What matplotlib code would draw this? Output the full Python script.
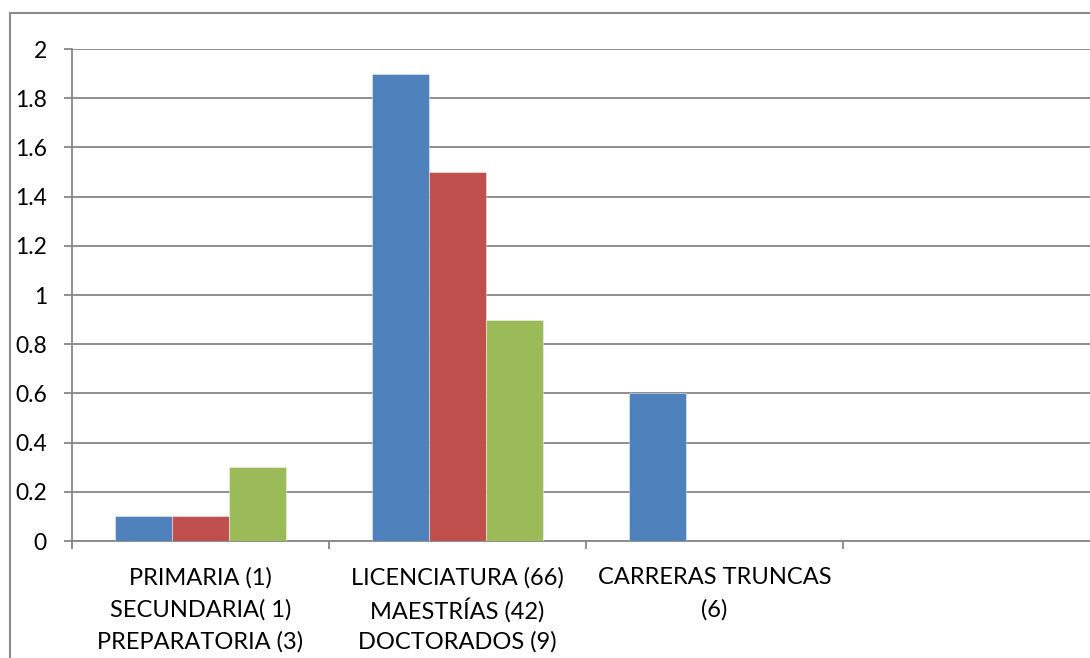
import matplotlib
matplotlib.use('Agg')
import matplotlib.pyplot as plt
import matplotlib.transforms as mtransforms
from matplotlib.patches import Rectangle
import numpy as np

plt.rcParams['font.family'] = ['Lato', 'DejaVu Sans']

# niveles de estudio (la cuarta casilla queda vacia)
categorias = ['PRIMARIA (1)\nSECUNDARIA( 1)\nPREPARATORIA (3)',
              'LICENCIATURA (66)\nMAESTRÍAS (42)\nDOCTORADOS (9)',
              'CARRERAS TRUNCAS\n(6)',
              '']
serie1 = [0.1, 1.9, 0.6, 0]
serie2 = [0.1, 1.5, 0, 0]
serie3 = [0.3, 0.9, 0, 0]
colores = ['#4F81BD', '#C0504D', '#9BBB59']
gris = '#868686'

fig = plt.figure(figsize=(10.9, 6.58), dpi=100)
ax = fig.add_axes([72/1090, 117/658, 1028/1090, 492/658])

x = np.arange(len(categorias)) + 0.5
ancho = 1 / 4.5
for i, (vals, c) in enumerate(zip([serie1, serie2, serie3], colores)):
    ax.bar(x + (i - 1) * ancho, vals, ancho, color=c,
           edgecolor=(1, 1, 1, 0.5), linewidth=0.6, zorder=3)

ax.set_xlim(0, 4)
ax.set_ylim(0, 2)
ax.set_yticks(np.arange(0, 2.01, 0.2))
ax.set_yticklabels(['0', '0.2', '0.4', '0.6', '0.8', '1', '1.2', '1.4', '1.6', '1.8', '2'])
ax.yaxis.grid(True, color=gris, linewidth=1.3, zorder=0)

ax.set_xticks([0, 1, 2, 3, 4])
ax.set_xticklabels([])
ax.tick_params(axis='x', which='major', length=6, width=1.3, color=gris, direction='out')
ax.tick_params(axis='y', length=6, width=1.3, color=gris, labelsize=16.5, pad=12)

# etiquetas de categoria linea por linea, con interlineado parejo
trans = mtransforms.blended_transform_factory(ax.transData, ax.transAxes)
for xi, etiqueta in zip(x, categorias):
    for j, linea in enumerate(etiqueta.split('\n')):
        if not linea:
            continue
        off = mtransforms.offset_copy(trans, fig=fig, y=-(37 + 32 * j) * 72 / 100,
                                      units='points')
        ax.text(xi, 0, linea, transform=off, ha='center', va='center',
                fontsize=17, clip_on=False)

for s in ['top', 'right']:
    ax.spines[s].set_visible(False)
for s in ['left', 'bottom']:
    ax.spines[s].set_color(gris)
    ax.spines[s].set_linewidth(1.3)

# marco del grafico
fig.patches.append(Rectangle((10/1090, -0.2), 1.2, 1 - 13/658 + 0.2,
                             transform=fig.transFigure, fill=False,
                             edgecolor='#8C8C8C', linewidth=1.5))

fig.savefig('out.png', dpi=100)
